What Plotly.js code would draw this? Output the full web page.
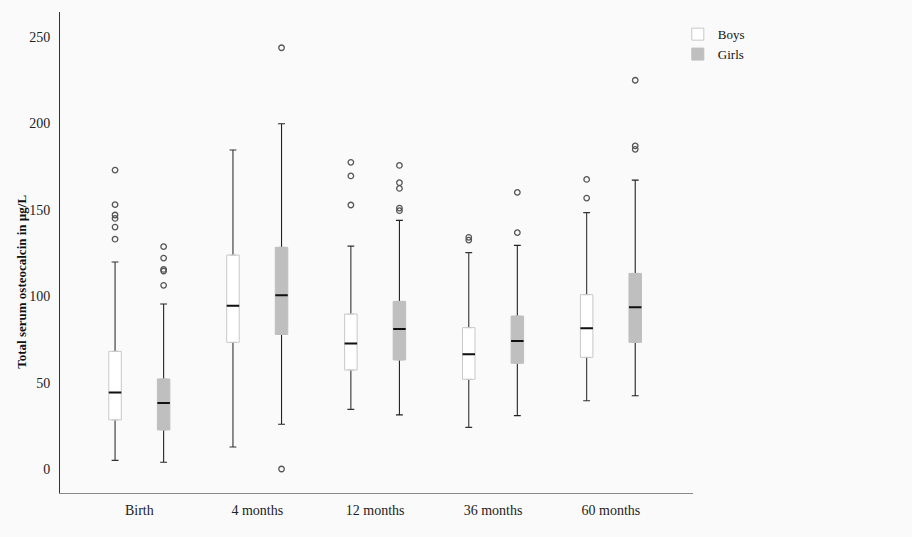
<!DOCTYPE html>
<html><head><meta charset="utf-8">
<script src="https://cdn.plot.ly/plotly-3.0.1.min.js"></script>
<style>html,body{margin:0;padding:0;background:#fafafa}</style>
</head><body>
<div id="chart" style="width:912px;height:537px"></div>
<script>
// ---- data ----
const categories = ['Birth', '4 months', '12 months', '36 months', '60 months'];

const boysQ1     = [28.4, 73.3, 57.3, 51.9, 64.6];
const boysMedian = [44.2, 94.5, 72.7, 66.4, 81.4];
const boysQ3     = [68.1, 123.8, 89.7, 81.8, 100.9];
const boysLower  = [5.0, 12.7, 34.5, 24.1, 39.5];
const boysUpper  = [119.8, 184.6, 129.0, 125.2, 148.4];
const boysOutliers = [
  [173, 153, 147, 145, 140, 133],
  [],
  [177.5, 169.6, 152.8],
  [134.1, 132.5],
  [167.6, 156.8]
];

const girlsQ1     = [22.6, 77.9, 63.1, 61.2, 73.3];
const girlsMedian = [38.2, 100.5, 81.0, 74.1, 93.6];
const girlsQ3     = [52.1, 128.3, 97.0, 88.5, 113.2];
const girlsLower  = [3.9, 25.9, 31.3, 30.9, 42.4];
const girlsUpper  = [95.5, 199.8, 143.9, 129.4, 167.2];
const girlsOutliers = [
  [128.7, 122.1, 115.5, 114.6, 106.3],
  [243.8, 0],
  [175.7, 165.7, 162.4, 151.0, 149.5],
  [160.1, 136.8],
  [225, 187, 185]
];

const yTicks = [0, 50, 100, 150, 200, 250];

// ---- layout helpers ----
const OFFSET = 0.206, BOXW = 0.106;
const idx = categories.map((c, i) => i);

function groupTraces(name, off, q1, med, q3, lo, hi, outl, fill, edge, whisk, showLeg) {
  const xs = idx.map(i => i + off);
  const common = {type: 'box', x: xs, width: BOXW, hoverinfo: 'skip', boxpoints: false};
  const whiskers = Object.assign({}, common, {
    q1: med, median: med, q3: med, lowerfence: lo, upperfence: hi,
    whiskerwidth: 0.55, line: {color: whisk, width: 1.1}, fillcolor: 'rgba(0,0,0,0)',
    showlegend: false, name: name
  });
  const box = Object.assign({}, common, {
    q1: q1, median: med, q3: q3, lowerfence: q1, upperfence: q3,
    line: {color: edge, width: 1}, fillcolor: fill, name: name, showlegend: showLeg
  });
  const medLine = Object.assign({}, common, {
    q1: med, median: med, q3: med, lowerfence: med, upperfence: med,
    line: {color: '#111111', width: 2}, fillcolor: 'rgba(0,0,0,0)', showlegend: false, name: name
  });
  const ox = [], oy = [];
  outl.forEach((arr, i) => arr.forEach(v => { ox.push(i + off); oy.push(v); }));
  const pts = {
    type: 'scatter', mode: 'markers', x: ox, y: oy, showlegend: false, hoverinfo: 'skip',
    marker: {symbol: 'circle-open', size: 5.5, color: '#555555', line: {width: 1.3, color: '#555555'}}
  };
  return [whiskers, box, medLine, pts];
}

const traces = [].concat(
  groupTraces('Boys', -OFFSET, boysQ1, boysMedian, boysQ3, boysLower, boysUpper, boysOutliers,
              '#ffffff', '#c8c8c8', '#333333', true),
  groupTraces('Girls', OFFSET, girlsQ1, girlsMedian, girlsQ3, girlsLower, girlsUpper, girlsOutliers,
              '#bfbfbf', '#bfbfbf', '#222222', true)
);

const serif = 'Liberation Serif, Times New Roman, serif';
const layout = {
  width: 912, height: 537,
  margin: {l: 60, r: 219, t: 12, b: 44},
  paper_bgcolor: '#fafafa', plot_bgcolor: '#fafafa',
  font: {family: serif, size: 14, color: '#222222'},
  showlegend: true,
  legend: {x: 0.976, xanchor: 'left', y: 0.985, yanchor: 'top', bgcolor: 'rgba(0,0,0,0)',
           font: {family: serif, size: 13, color: '#111'}, tracegroupgap: 0, itemwidth: 30},
  xaxis: {
    range: [-0.673, 4.696], tickvals: idx, ticktext: categories,
    showgrid: false, zeroline: false, showline: true, linecolor: '#8a8a8a', linewidth: 1,
    ticks: '', ticklabelstandoff: 4, tickfont: {family: serif, size: 14, color: '#222'}, fixedrange: true
  },
  yaxis: {
    range: [-13.9, 264.5], tickvals: yTicks,
    showgrid: false, zeroline: false, showline: true, linecolor: '#333', linewidth: 1,
    ticks: '', ticklabelstandoff: 6, tickfont: {family: serif, size: 14, color: '#222'}, fixedrange: true
  },
  annotations: [{
    text: '<b>Total serum osteocalcin in µg/L</b>', textangle: -90,
    xref: 'paper', yref: 'paper', x: -0.061, y: 0.44, xanchor: 'center', yanchor: 'middle',
    showarrow: false, font: {family: serif, size: 13, color: '#111'}
  }]
};

Plotly.newPlot('chart', traces, layout, {displayModeBar: false, staticPlot: true});
</script>
</body></html>
